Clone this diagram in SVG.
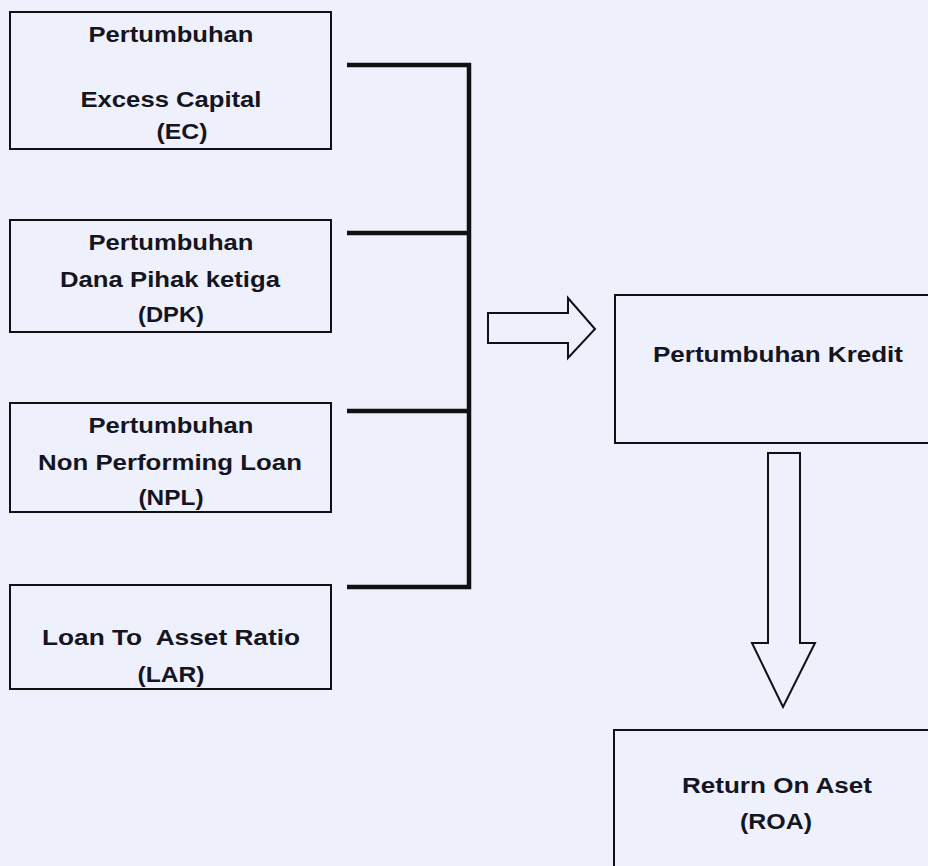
<svg xmlns="http://www.w3.org/2000/svg" width="928" height="866" viewBox="0 0 928 866">
<style>
.box{fill:none;stroke:#111;stroke-width:2}
.t{font-family:"Liberation Sans",Arial,sans-serif;font-weight:bold;font-size:22px;fill:#15151f;text-anchor:middle}
.con{stroke:#111;stroke-width:4.5;fill:none}
.arr{fill:none;stroke:#111;stroke-width:2;stroke-linejoin:miter}
</style>
<rect width="928" height="866" fill="#eef0fb"/>
<g id="node-ec">
<rect class="box" x="10" y="12" width="321" height="137"/>
<text class="t" x="171" y="42" textLength="165" lengthAdjust="spacingAndGlyphs">Pertumbuhan</text>
<text class="t" x="171" y="107" textLength="181" lengthAdjust="spacingAndGlyphs">Excess Capital</text>
<text class="t" x="182" y="139" textLength="51" lengthAdjust="spacingAndGlyphs">(EC)</text>
</g>
<g id="node-dpk">
<rect class="box" x="10" y="220" width="321" height="112"/>
<text class="t" x="171" y="250" textLength="165" lengthAdjust="spacingAndGlyphs">Pertumbuhan</text>
<text class="t" x="170" y="287" textLength="220" lengthAdjust="spacingAndGlyphs">Dana Pihak ketiga</text>
<text class="t" x="171" y="322" textLength="66" lengthAdjust="spacingAndGlyphs">(DPK)</text>
</g>
<g id="node-npl">
<rect class="box" x="10" y="403" width="321" height="109"/>
<text class="t" x="171" y="433" textLength="165" lengthAdjust="spacingAndGlyphs">Pertumbuhan</text>
<text class="t" x="170" y="470" textLength="264" lengthAdjust="spacingAndGlyphs">Non Performing Loan</text>
<text class="t" x="171" y="505" textLength="65" lengthAdjust="spacingAndGlyphs">(NPL)</text>
</g>
<g id="node-lar">
<rect class="box" x="10" y="585" width="321" height="104"/>
<text class="t" x="171" y="645" textLength="258" lengthAdjust="spacingAndGlyphs" xml:space="preserve">Loan To  Asset Ratio</text>
<text class="t" x="171" y="682" textLength="67" lengthAdjust="spacingAndGlyphs">(LAR)</text>
</g>
<g id="node-kredit">
<rect class="box" x="615" y="295" width="330" height="148"/>
<text class="t" x="778" y="362" textLength="250" lengthAdjust="spacingAndGlyphs">Pertumbuhan Kredit</text>
</g>
<g id="node-roa">
<rect class="box" x="614" y="730" width="330" height="150"/>
<text class="t" x="777" y="793" textLength="190" lengthAdjust="spacingAndGlyphs">Return On Aset</text>
<text class="t" x="776" y="829" textLength="72" lengthAdjust="spacingAndGlyphs">(ROA)</text>
</g>
<g id="connectors">
<path class="con" d="M347 65 H469 V587 H347"/>
<path class="con" d="M347 233 H469"/>
<path class="con" d="M347 411 H469"/>
<path class="arr" d="M488 313 H568 V298 L595 329 L568 358 V343 H488 Z"/>
<path class="arr" d="M768 453 H800 V643 H815 L783 707 L752 643 H768 Z"/>
</g>
</svg>
